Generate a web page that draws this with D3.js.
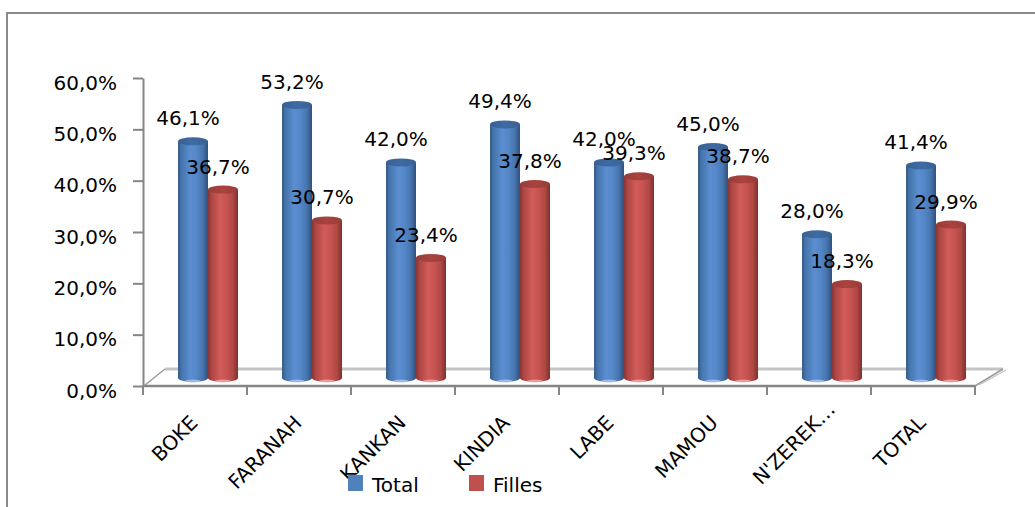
<!DOCTYPE html>
<html>
<head>
<meta charset="utf-8">
<script src="https://cdn.jsdelivr.net/npm/d3@7"></script>
<style>
  html, body { margin: 0; padding: 0; background: #fff; }
  svg { display: block; }
  text { font-family: "DejaVu Sans", sans-serif; fill: #000; }
</style>
</head>
<body>
<svg id="chart" width="1035" height="507"></svg>
<script>
// Taux par région : ensemble et filles
const categories = ["BOKE", "FARANAH", "KANKAN", "KINDIA", "LABE", "MAMOU", "N'ZEREK…", "TOTAL"];
const totalValues = [46.1, 53.2, 42.0, 49.4, 42.0, 45.0, 28.0, 41.4];
const fillesValues = [36.7, 30.7, 23.4, 37.8, 39.3, 38.7, 18.3, 29.9];
const seriesNames = ["Total", "Filles"];
const yTickValues = [0, 10, 20, 30, 40, 50, 60];

const svg = d3.select("#chart");
const W = 1035, H = 507;

// plot geometry (front plane of the 3-D floor)
const plotLeft = 143, plotRight = 975, plotTop = 78, plotBottom = 386;
const depthL = { dx: 22, dy: -17 }, depthR = { dx: 28, dy: -17 };
const barShift = { dx: 13, dy: -8 };   // bars stand halfway into the floor depth
const barW = 30, ry = 4;

const x = d3.scaleBand().domain(categories).range([plotLeft, plotRight]).paddingInner(0).paddingOuter(0);
const y = d3.scaleLinear().domain([0, 60]).range([plotBottom, plotTop]);

const fmt = v => d3.format(".1f")(v).replace(".", ",") + "%";

// outer frame
svg.append("path")
  .attr("d", `M7,${H} L7,13 L${W},13`)
  .attr("fill", "none").attr("stroke", "#8a8a8a").attr("stroke-width", 2);

// gradients for the cylinders
const defs = svg.append("defs");
const palettes = {
  Total: { stops: ["#355a88", "#4674ad", "#5a8ed0", "#5587c8", "#4776b0", "#31527b"], cap: "#3f6ba3", foot: "#a8c3e6" },
  Filles: { stops: ["#873533", "#ad4744", "#d05b58", "#c85552", "#b14946", "#7f302e"], cap: "#a9433f", foot: "#eaa9a7" }
};
seriesNames.forEach(name => {
  const g = defs.append("linearGradient").attr("id", "grad-" + name)
    .attr("x1", "0").attr("x2", "1").attr("y1", "0").attr("y2", "0");
  const offs = [0, 0.12, 0.4, 0.6, 0.82, 1];
  palettes[name].stops.forEach((c, i) => g.append("stop").attr("offset", offs[i]).attr("stop-color", c));
  const tg = defs.append("linearGradient").attr("id", "cap-" + name)
    .attr("x1", "0").attr("x2", "1").attr("y1", "0").attr("y2", "0");
  tg.append("stop").attr("offset", 0).attr("stop-color", d3.color(palettes[name].cap).darker(0.3));
  tg.append("stop").attr("offset", 0.5).attr("stop-color", palettes[name].cap);
  tg.append("stop").attr("offset", 1).attr("stop-color", d3.color(palettes[name].cap).darker(0.3));
});

// floor
const floor = svg.append("g");
floor.append("path")
  .attr("d", `M${plotLeft},${plotBottom} L${plotLeft + depthL.dx},${plotBottom + depthL.dy} L${plotRight + depthR.dx},${plotBottom + depthR.dy} L${plotRight},${plotBottom} Z`)
  .attr("fill", "#fff").attr("stroke", "none");
floor.append("line")
  .attr("x1", plotLeft + depthL.dx).attr("y1", plotBottom + depthL.dy)
  .attr("x2", plotRight + depthR.dx).attr("y2", plotBottom + depthR.dy)
  .attr("stroke", "#c3c3c3").attr("stroke-width", 3);
floor.append("line")
  .attr("x1", plotLeft + 2).attr("y1", plotBottom - 1)
  .attr("x2", plotLeft + depthL.dx).attr("y2", plotBottom + depthL.dy)
  .attr("stroke", "#9a9a9a").attr("stroke-width", 1.5);
floor.append("line")
  .attr("x1", plotRight).attr("y1", plotBottom)
  .attr("x2", plotRight + depthR.dx).attr("y2", plotBottom + depthR.dy)
  .attr("stroke", "#9a9a9a").attr("stroke-width", 1.5);
floor.append("line")
  .attr("x1", plotRight + 4).attr("y1", plotBottom - 1)
  .attr("x2", plotRight + depthR.dx + 3).attr("y2", plotBottom + depthR.dy + 1)
  .attr("stroke", "#c3c3c3").attr("stroke-width", 1.2);

// y axis
const yAxis = d3.axisLeft(y).tickValues(yTickValues).tickFormat(fmt).tickSize(10).tickSizeOuter(0).tickPadding(16);
const yg = svg.append("g").attr("transform", `translate(${plotLeft},0)`).call(yAxis);
yg.select(".domain").attr("stroke", "#868686").attr("stroke-width", 2);
yg.selectAll(".tick line").attr("stroke", "#868686").attr("stroke-width", 2);
yg.selectAll(".tick text")
  .attr("font-family", "DejaVu Sans, sans-serif").attr("font-size", 20)
  .attr("dy", null).attr("y", 11).attr("fill", "#000");

// x axis: front edge with ticks at category boundaries
const xg = svg.append("g");
xg.append("line").attr("x1", plotLeft).attr("x2", plotRight).attr("y1", plotBottom).attr("y2", plotBottom)
  .attr("stroke", "#868686").attr("stroke-width", 2.5);
const boundaries = categories.map(c => x(c)).concat([x(categories[categories.length - 1]) + x.bandwidth()]);
xg.selectAll("line.tick").data(boundaries).join("line").attr("class", "tick")
  .attr("x1", d => d).attr("x2", d => d).attr("y1", plotBottom).attr("y2", plotBottom + 9)
  .attr("stroke", "#868686").attr("stroke-width", 2);
// truncated names keep the width of their full text box, so they sit further along the diagonal
xg.selectAll("text.cat").data(categories).join("text").attr("class", "cat")
  .attr("font-size", 20).attr("text-anchor", "end")
  .attr("transform", d => `translate(${x(d) + x.bandwidth() / 2 + 4},${plotBottom + 38}) rotate(-45)`)
  .attr("dx", d => d.endsWith("…") ? 19 : 0)
  .text(d => d);

// bars as cylinders
const barData = [];
categories.forEach((c, i) => {
  barData.push({ cat: c, series: "Total", value: totalValues[i], k: 0 });
  barData.push({ cat: c, series: "Filles", value: fillesValues[i], k: 1 });
});
const base = y(0) + barShift.dy;
const bx = d => x(d.cat) + x.bandwidth() / 2 + barShift.dx - barW + d.k * barW;
const by = d => y(d.value) + barShift.dy;

const bars = svg.append("g").selectAll("g.bar").data(barData).join("g").attr("class", "bar");
bars.append("path")
  .attr("d", d => {
    const x0 = bx(d), x1 = x0 + barW, yt = by(d);
    return `M${x0},${yt} L${x0},${base} A${barW / 2},${ry} 0 0 0 ${x1},${base} L${x1},${yt} Z`;
  })
  .attr("fill", d => `url(#grad-${d.series})`);
bars.append("ellipse")
  .attr("cx", d => bx(d) + barW / 2).attr("cy", base + ry - 1)
  .attr("rx", barW / 2 - 7).attr("ry", 1.5)
  .attr("fill", d => palettes[d.series].foot).attr("opacity", 0.85);
bars.append("ellipse")
  .attr("cx", d => bx(d) + barW / 2).attr("cy", d => by(d))
  .attr("rx", barW / 2).attr("ry", ry)
  .attr("fill", d => `url(#cap-${d.series})`);

// value labels
svg.append("g").selectAll("text").data(barData).join("text")
  .attr("font-size", 20).attr("text-anchor", "middle")
  .attr("x", d => bx(d) + barW / 2 - 5)
  .attr("y", d => by(d) - 16)
  .text(d => fmt(d.value));

// legend
const legend = svg.append("g");
const legendX = [348, 469];
seriesNames.forEach((name, i) => {
  legend.append("rect").attr("x", legendX[i]).attr("y", 475).attr("width", 15).attr("height", 16)
    .attr("fill", name === "Total" ? "#4f81bd" : "#c0504d");
  legend.append("text").attr("x", legendX[i] + 24).attr("y", 492).attr("font-size", 20).text(name);
});
</script>
</body>
</html>
